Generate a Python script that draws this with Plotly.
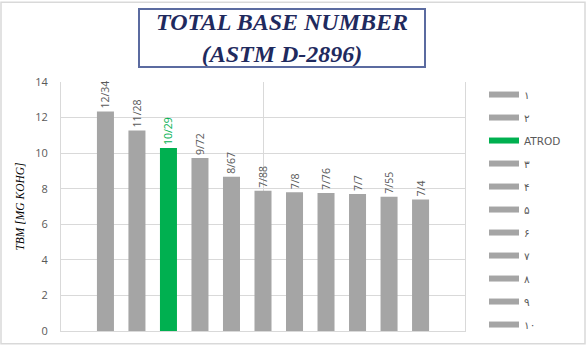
import plotly.graph_objects as go

# Series names (legend order) and TBN results
series_names = ["۱", "۲", "ATROD", "۳", "۴", "۵", "۶", "۷", "۸", "۹", "۱۰"]
tbn_values = [12.34, 11.28, 10.29, 9.72, 8.67, 7.88, 7.8, 7.76, 7.7, 7.55, 7.4]
category = ["TBN"]

GRAY = "#A5A5A5"
GREEN = "#00B050"
LABEL_GRAY = "#595959"

W, H = 587, 350
L, R, T, B = 61, 122, 82, 15

fig = go.Figure()

for name, val in zip(series_names, tbn_values):
    color = GREEN if name == "ATROD" else GRAY
    label = str(val).replace(".", "/")
    fig.add_trace(go.Bar(
        x=category, y=[val], name=name,
        marker=dict(color=color, line=dict(width=0)),
        text=[label], textposition="outside", textangle=-90,
        textfont=dict(family="Open Sans, Arial", size=10.5,
                      color=GREEN if name == "ATROD" else LABEL_GRAY),
        constraintext="none", cliponaxis=False,
        showlegend=False, legendgroup=name,
    ))
    # legend entry drawn as a thick line swatch
    fig.add_trace(go.Scatter(
        x=[None], y=[None], mode="lines", name=name,
        line=dict(color=color, width=6),
        legendgroup=name, showlegend=True,
    ))

fig.update_layout(
    width=W, height=H,
    margin=dict(l=L, r=R, t=T, b=B, pad=0),
    paper_bgcolor="white", plot_bgcolor="white",
    barmode="group", bargap=0.142, bargroupgap=0.46,
    font=dict(family="Open Sans, Arial", color=LABEL_GRAY),
    xaxis=dict(
        showticklabels=False, showgrid=True, gridcolor="#D9D9D9",
        showline=True, linecolor="#D9D9D9", linewidth=1,
        zeroline=False, ticks="",
    ),
    yaxis=dict(
        range=[0, 14], dtick=2, showgrid=True, gridcolor="#D9D9D9",
        gridwidth=1, zeroline=False, showline=True, mirror=True,
        linecolor="#D9D9D9", ticks="", ticklabelstandoff=10,
        tickfont=dict(size=11, color=LABEL_GRAY),
        title=dict(text="<i>TBM [MG KOHG]</i>", standoff=8,
                   font=dict(family="Liberation Serif, Times New Roman",
                             size=11.5, color="#000000")),
    ),
    legend=dict(
        x=1.0 + (484 - (W - R)) / (W - L - R), xanchor="left",
        y=1.0 + (T - 80) / (H - T - B), yanchor="top",
        font=dict(family="DejaVu Sans, Open Sans", size=10.5,
                  color=LABEL_GRAY),
        tracegroupgap=4, itemwidth=30, bgcolor="rgba(0,0,0,0)",
        maxheight=345,
    ),
    annotations=[
        dict(
            text="<b><i>TOTAL BASE NUMBER<br>(ASTM D-2896)</i></b>",
            xref="paper", yref="paper",
            x=(282 - L) / (W - L - R), y=(H - B - 37) / (H - T - B),
            xanchor="center", yanchor="middle", showarrow=False,
            font=dict(family="Liberation Serif, Times New Roman", size=24,
                      color="#1F2A5E"),
            width=284, height=56, align="center",
            bordercolor="#5B6BA0", borderwidth=2, borderpad=0,
            bgcolor="white",
        )
    ],
    shapes=[
        dict(type="rect", xref="paper", yref="paper",
             x0=(1 - L) / (W - L - R), x1=(585 - L) / (W - L - R),
             y0=(H - B - 348) / (H - T - B), y1=(H - B - 1) / (H - T - B),
             line=dict(color="#D9D9D9", width=1.5), layer="below"),
    ],
)

fig.write_html("out.html")
